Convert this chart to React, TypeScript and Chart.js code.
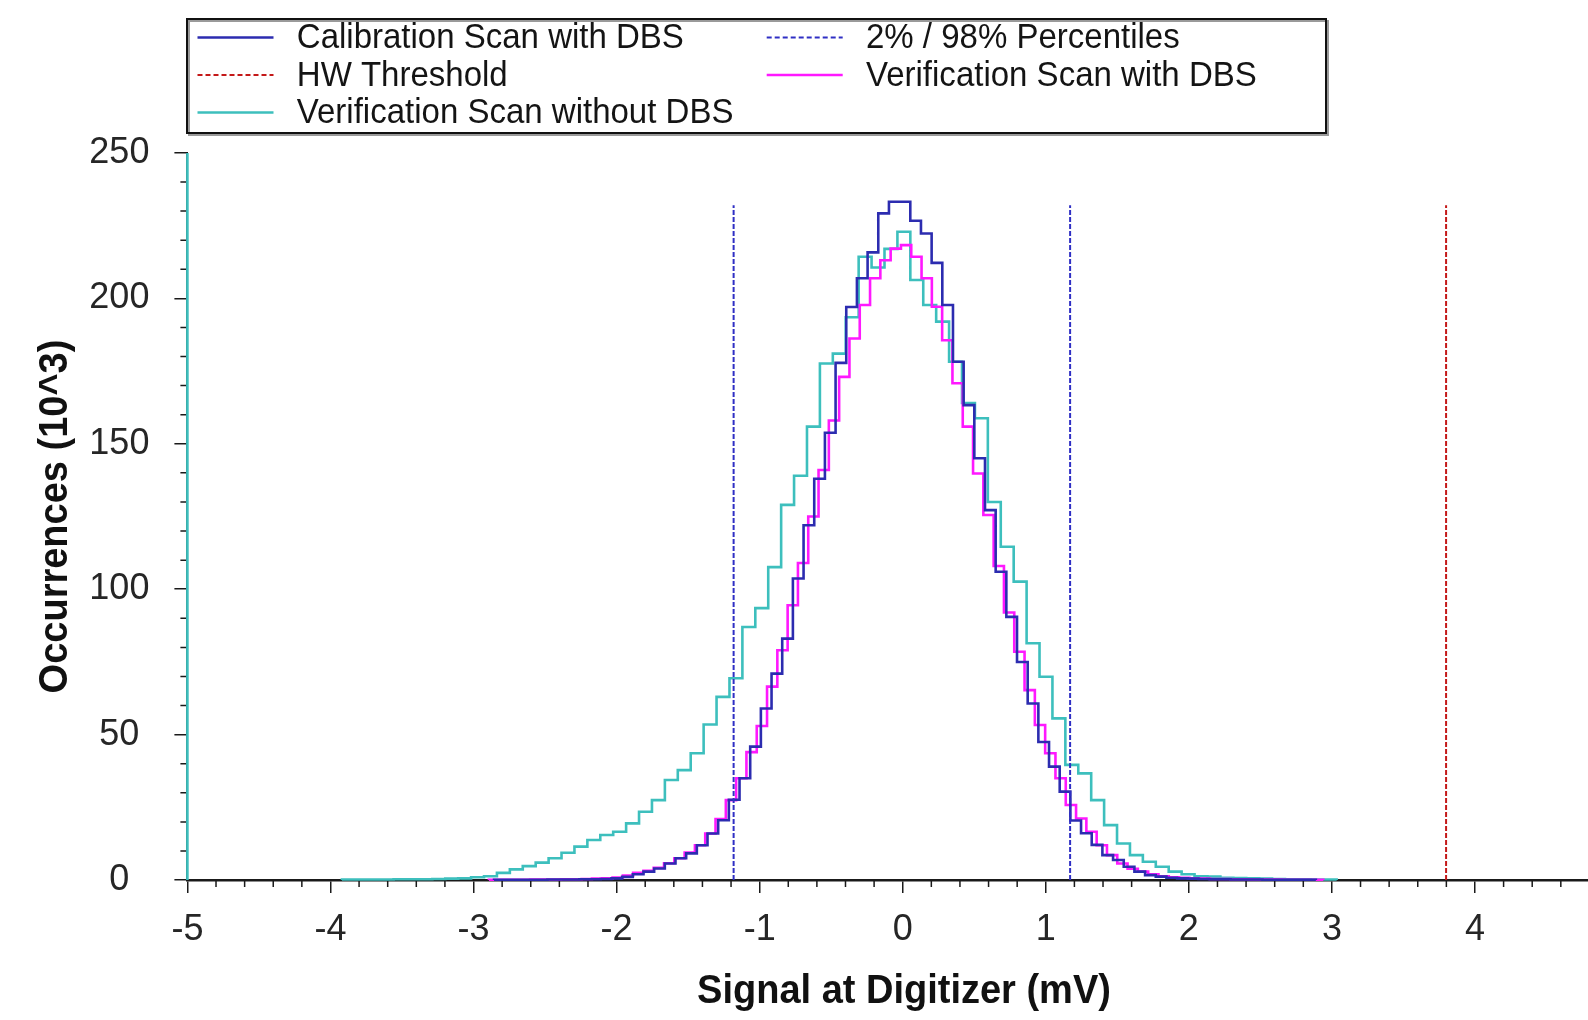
import { useEffect, useRef } from 'react';
import { Chart, registerables } from 'chart.js';

Chart.register(...registerables);

// ---------- axes ----------
const X_MIN = -5;
const X_MAX = 4.79;
const Y_MIN = 0;
const Y_MAX = 250;
const X_TICKS = [-5, -4, -3, -2, -1, 0, 1, 2, 3, 4];
const Y_TICKS = [0, 50, 100, 150, 200, 250];
const X_MINOR_STEP = 0.2;
const Y_MINOR_STEP = 10;

const X_TITLE = 'Signal at Digitizer (mV)';
const Y_TITLE = 'Occurrences (10^3)';

// ---------- series (occurrences in 10^3 per bin) ----------
// Calibration Scan with DBS
const CAL_START = -2.8565;
const CAL_BIN = 0.0746;
const CAL_VALUES = [
  0.1, 0.1, 0.1, 0.1, 0.1, 0.2, 0.2, 0.2, 0.3, 0.3, 0.4, 0.6,
  1.1, 2.0, 2.9, 4.0, 5.7, 7.5, 9.2, 12.0, 16.0, 20.6,
  27.6, 35.0, 45.9, 59.0, 71.0, 83.0, 103.7, 122.0, 138.0, 153.8,
  177.8, 197.0, 206.9, 215.8, 229.2, 233.2, 233.2, 226.7, 222.3, 212.2,
  197.7, 178.2, 163.3, 145.0, 127.2, 106.0, 90.5, 75.0, 60.7, 47.5,
  39.0, 30.4, 20.5, 16.1, 12.1, 8.6, 6.9, 4.6, 2.9, 1.7,
  1.2, 0.8, 0.6, 0.5, 0.4, 0.3, 0.3, 0.2, 0.2, 0.2, 0.1, 0.1, 0.1, 0.1, 0.1,
];

// Verification Scan with DBS
const VER_START = -2.8924;
const VER_BIN = 0.0720;
const VER_VALUES = [
  0.1, 0.1, 0.1, 0.1, 0.2, 0.2, 0.2, 0.3, 0.3, 0.4, 0.5,
  0.6, 0.9, 1.6, 2.5, 3.2, 4.2, 5.8, 7.5, 9.5,
  12.0, 16.0, 21.0, 27.5, 35.0, 44.0, 53.0, 66.5, 79.0, 94.5, 109.0, 125.0,
  141.0, 158.0, 173.0, 186.2, 197.7, 206.9, 213.1, 217.1, 218.3, 214.3,
  206.9, 197.1, 185.6, 170.8, 155.9, 139.8, 125.5, 108.0, 92.0, 78.5,
  65.3, 53.3, 43.6, 35.0, 25.8, 21.2, 16.6, 12.0, 8.6, 5.7,
  3.9, 2.9, 2.0, 1.3, 1.0, 0.8, 0.6, 0.5, 0.4, 0.4, 0.3, 0.3, 0.2, 0.2, 0.2, 0.1, 0.1, 0.1, 0.1,
];

// Verification Scan without DBS
const NODBS_START = -3.920;
const NODBS_BIN = 0.0903;
const NODBS_VALUES = [
  0.2, 0.2, 0.2, 0.2, 0.3, 0.3, 0.3, 0.4, 0.5, 0.6,
  1.0, 1.3, 2.5, 3.7, 4.8, 6.0, 7.5, 9.4, 11.5, 13.8, 15.5, 16.6, 19.5, 23.5, 27.5, 34.4, 37.8, 43.6,
  53.5, 63.0, 69.4, 87.0, 93.5, 107.6, 129.0, 139.0, 155.9, 177.6,
  181.0, 193.5, 214.3, 210.6, 217.0, 222.9, 206.3, 197.7, 192.0, 178.2,
  164.0, 158.8, 130.0, 114.6, 102.6, 81.4, 69.9, 55.6, 39.6, 36.7,
  27.5, 18.9, 12.6, 8.6, 6.3, 4.6, 2.9, 2.0, 1.3, 1.2,
  0.8, 0.7, 0.6, 0.5, 0.4, 0.3, 0.3, 0.2, 0.2,
];
const NODBS_UNDERFLOW_X = -5;
const NODBS_UNDERFLOW = 1000;

// Markers
const PERCENTILES = [-1.182, 1.170];
const HW_THRESHOLD = 3.798;
const MARKER_TOP = 232;

// ---------- styles ----------
const FONT = "'Liberation Sans', Arial, Helvetica, sans-serif";
const C_CAL = '#2c2cb0';
const C_VER = '#ff18ff';
const C_NODBS = '#3dbfbd';
const C_PCT = '#2f2fc4';
const C_HW = '#c41818';
const AXIS_COLOR = '#1a1a1a';
const DASH = [5, 2];

const W = 1588;
const H = 1020;

type Pt = { x: number; y: number | null };

function histogramSteps(start: number, width: number, values: number[]): Pt[] {
  const pts: Pt[] = [{ x: start, y: 0 }];
  values.forEach((v, i) => {
    pts.push({ x: start + i * width, y: v });
    pts.push({ x: start + (i + 1) * width, y: v });
  });
  pts.push({ x: start + values.length * width, y: 0 });
  return pts;
}

function verticalMarkers(xs: number[], top: number): Pt[] {
  const pts: Pt[] = [];
  xs.forEach((x, i) => {
    if (i > 0) pts.push({ x, y: null });
    pts.push({ x, y: 0 });
    pts.push({ x, y: top });
  });
  return pts;
}

const LEGEND = [
  { label: 'Calibration Scan with DBS', color: C_CAL, dash: false, col: 0, row: 0 },
  { label: '2% / 98% Percentiles', color: C_PCT, dash: true, col: 1, row: 0 },
  { label: 'HW Threshold', color: C_HW, dash: true, col: 0, row: 1 },
  { label: 'Verification Scan with DBS', color: C_VER, dash: false, col: 1, row: 1 },
  { label: 'Verification Scan without DBS', color: C_NODBS, dash: false, col: 0, row: 2 },
];

function condensedText(ctx: CanvasRenderingContext2D, text: string, x: number, y: number, sx: number) {
  ctx.save();
  ctx.translate(x, y);
  ctx.scale(sx, 1);
  ctx.fillText(text, 0, 0);
  ctx.restore();
}

const decorPlugin = {
  id: 'decor',
  beforeDatasetsDraw(chart: any) {
    const { ctx, chartArea } = chart;
    const xs = chart.scales.x;
    const ys = chart.scales.y;
    ctx.save();
    ctx.strokeStyle = AXIS_COLOR;
    ctx.lineWidth = 1.5;
    ctx.beginPath();
    const minorLen = 7;
    for (let i = Math.ceil(X_MIN / X_MINOR_STEP); i * X_MINOR_STEP <= X_MAX + 1e-9; i++) {
      if (i % 5 === 0) continue;
      const px = xs.getPixelForValue(i * X_MINOR_STEP);
      ctx.moveTo(px, chartArea.bottom);
      ctx.lineTo(px, chartArea.bottom + minorLen);
    }
    for (let v = Y_MIN + Y_MINOR_STEP; v < Y_MAX; v += Y_MINOR_STEP) {
      if (v % 50 === 0) continue;
      const py = ys.getPixelForValue(v);
      ctx.moveTo(chartArea.left - minorLen, py);
      ctx.lineTo(chartArea.left, py);
    }
    ctx.stroke();
    ctx.restore();
  },
  afterDraw(chart: any) {
    const { ctx } = chart;
    ctx.save();
    // legend box
    ctx.strokeStyle = '#9a9a9a';
    ctx.lineWidth = 2;
    ctx.strokeRect(189, 21, 1139, 114);
    ctx.strokeStyle = '#111';
    ctx.lineWidth = 2;
    ctx.strokeRect(187, 19, 1139, 114);

    const rowsY = [37.5, 75, 112.4];
    const lineX = [[197.5, 273.5], [766.7, 842.7]];
    const textX = [296.8, 866];
    ctx.font = `35px ${FONT}`;
    ctx.textBaseline = 'middle';
    ctx.textAlign = 'left';
    LEGEND.forEach((it) => {
      const y = rowsY[it.row];
      ctx.strokeStyle = it.color;
      ctx.lineWidth = it.dash ? 2 : 2.5;
      ctx.setLineDash(it.dash ? [5, 3] : []);
      ctx.beginPath();
      ctx.moveTo(lineX[it.col][0], y);
      ctx.lineTo(lineX[it.col][1], y);
      ctx.stroke();
      ctx.setLineDash([]);
      ctx.fillStyle = '#141414';
      condensedText(ctx, it.label, textX[it.col], y + 1, 0.943);
    });

    // axis titles
    ctx.fillStyle = '#111';
    ctx.font = `bold 40px ${FONT}`;
    ctx.textAlign = 'center';
    ctx.textBaseline = 'middle';
    condensedText(ctx, X_TITLE, 904, 991.5, 0.95);
    ctx.translate(55.7, 516.5);
    ctx.rotate(-Math.PI / 2);
    ctx.save();
    ctx.scale(0.95, 1);
    ctx.fillText(Y_TITLE, 0, 0);
    ctx.restore();
    ctx.restore();
  },
};

export default function App() {
  const ref = useRef<HTMLCanvasElement | null>(null);

  useEffect(() => {
    document.body.style.margin = '0';
    const canvas = ref.current;
    if (!canvas) return;

    const nodbsData: Pt[] = [
      { x: NODBS_UNDERFLOW_X, y: 0 },
      { x: NODBS_UNDERFLOW_X, y: NODBS_UNDERFLOW },
      { x: NODBS_UNDERFLOW_X, y: null },
      ...histogramSteps(NODBS_START, NODBS_BIN, NODBS_VALUES),
    ];

    const clip = { left: 6, top: 0, right: 6, bottom: 6 };

    const chart = new Chart(canvas, {
      type: 'line',
      data: {
        datasets: [
          {
            label: '2% / 98% Percentiles',
            data: verticalMarkers(PERCENTILES, MARKER_TOP) as any,
            borderColor: C_PCT,
            borderWidth: 2,
            borderDash: DASH,
            spanGaps: false,
            clip: clip as any,
          },
          {
            label: 'HW Threshold',
            data: verticalMarkers([HW_THRESHOLD], MARKER_TOP) as any,
            borderColor: C_HW,
            borderWidth: 2,
            borderDash: DASH,
            clip: clip as any,
          },
          {
            label: 'Calibration Scan with DBS',
            data: histogramSteps(CAL_START, CAL_BIN, CAL_VALUES) as any,
            borderColor: C_CAL,
            borderWidth: 2.6,
            clip: clip as any,
          },
          {
            label: 'Verification Scan with DBS',
            data: histogramSteps(VER_START, VER_BIN, VER_VALUES) as any,
            borderColor: C_VER,
            borderWidth: 2.6,
            clip: clip as any,
          },
          {
            label: 'Verification Scan without DBS',
            data: nodbsData as any,
            borderColor: C_NODBS,
            borderWidth: 2.6,
            spanGaps: false,
            clip: clip as any,
          },
        ],
      },
      options: {
        animation: false,
        responsive: false,
        devicePixelRatio: 1,
        events: [],
        layout: { padding: { top: 152.9, left: 0, right: 0, bottom: 0 } },
        elements: {
          point: { radius: 0, hoverRadius: 0 },
          line: { tension: 0, fill: false, borderJoinStyle: 'miter', borderCapStyle: 'butt' },
        },
        plugins: {
          legend: { display: false },
          tooltip: { enabled: false },
          title: { display: false },
        },
        scales: {
          x: {
            type: 'linear',
            min: X_MIN,
            max: X_MAX,
            afterFit(s: any) {
              s.height = H - 880.1;
            },
            afterBuildTicks(s: any) {
              s.ticks = X_TICKS.map((v) => ({ value: v }));
            },
            ticks: {
              autoSkip: false,
              maxRotation: 0,
              includeBounds: false,
              padding: 15,
              color: '#262626',
              font: { family: FONT, size: 36 },
              callback: (v: any) => String(v),
            },
            grid: {
              drawOnChartArea: false,
              drawTicks: true,
              tickLength: 13,
              color: AXIS_COLOR,
              lineWidth: 1.5,
            },
            border: { display: true, color: AXIS_COLOR, width: 2.5 },
            title: { display: false },
          },
          y: {
            type: 'linear',
            min: Y_MIN,
            max: Y_MAX,
            afterFit(s: any) {
              s.width = 187.4;
            },
            afterBuildTicks(s: any) {
              s.ticks = Y_TICKS.map((v) => ({ value: v }));
            },
            ticks: {
              autoSkip: false,
              crossAlign: 'center',
              padding: 25,
              color: '#262626',
              font: { family: FONT, size: 36 },
              callback: (v: any) => String(v),
            },
            grid: {
              drawOnChartArea: false,
              drawTicks: true,
              tickLength: 13,
              color: AXIS_COLOR,
              lineWidth: 1.5,
            },
            border: { display: true, color: AXIS_COLOR, width: 2 },
            title: { display: false },
          },
        },
      } as any,
      plugins: [decorPlugin],
    });

    return () => {
      chart.destroy();
    };
  }, []);

  return (
    <canvas
      ref={ref}
      width={W}
      height={H}
      style={{ display: 'block', width: `${W}px`, height: `${H}px` }}
    />
  );
}
